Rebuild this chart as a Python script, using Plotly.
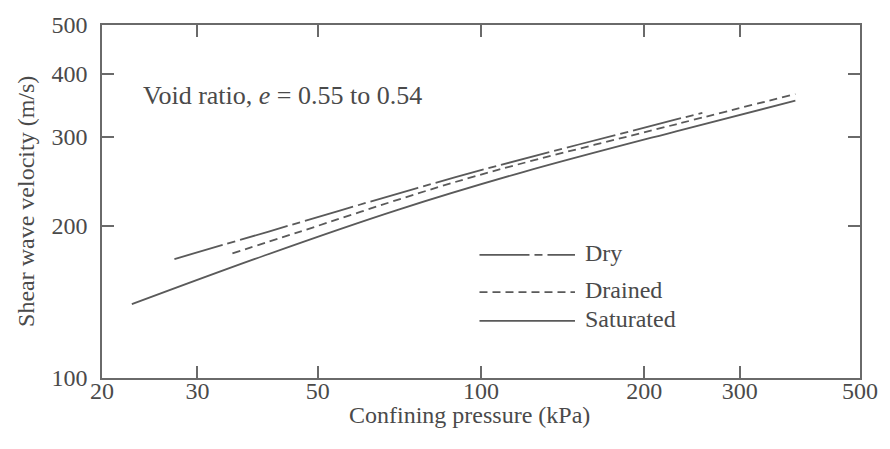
import numpy as np
import plotly.graph_objects as go

# Shear wave velocity vs confining pressure (log-log), three saturation states
pressure_dry = [27.2, 40.6, 76.5, 107, 229, 256]
vs_dry = [172, 195, 238, 263, 325, 335]

pressure_drained = [34.8, 46.1, 76.5, 107, 229, 380]
vs_drained = [176.5, 194.5, 232, 258, 318, 365]

pressure_sat = [22.7, 40, 70, 120, 229, 380]
vs_sat = [140, 175, 215, 256, 308, 354]

x_ticks = [20, 30, 50, 100, 200, 300, 500]
y_ticks = [100, 200, 300, 400, 500]

legend_names = ["Dry", "Drained", "Saturated"]

FONT = "Liberation Serif"
INK = "#4a4a4a"
LINE = "#5a5a5a"
DASHES = {"Dry": "50px,5px,8px,5px", "Drained": "8px,5px", "Saturated": "solid"}

fig = go.Figure()
series = [
    ("Dry", pressure_dry, vs_dry),
    ("Drained", pressure_drained, vs_drained),
    ("Saturated", pressure_sat, vs_sat),
]
for name, xs, ys in series:
    fig.add_trace(go.Scatter(
        x=xs, y=ys, mode="lines", name=name, showlegend=False,
        line=dict(color=LINE, width=1.8, dash=DASHES[name], shape="spline", smoothing=1.0),
    ))

# hand-built key: line sample plus label for each series
key_rows = {"Dry": 0.349, "Drained": 0.243, "Saturated": 0.162}
for name in legend_names:
    yk = key_rows[name]
    fig.add_shape(type="line", xref="paper", yref="paper",
                  x0=0.498, x1=0.624, y0=yk, y1=yk,
                  line=dict(color=LINE, width=1.8, dash=DASHES[name]))
    fig.add_annotation(text=name, xref="paper", yref="paper", x=0.634, y=yk + 0.006,
                       xanchor="left", yanchor="middle", showarrow=False,
                       font=dict(family=FONT, size=24, color=INK))

fig.add_annotation(text="Void ratio, <i>e</i> = 0.55 to 0.54", xref="paper", yref="paper",
                   x=0.052, y=0.799, xanchor="left", yanchor="middle", showarrow=False,
                   font=dict(family=FONT, size=26, color=INK))
fig.add_annotation(text="Confining pressure (kPa)", xref="paper", yref="paper",
                   x=0.485, y=-0.106, xanchor="center", yanchor="middle", showarrow=False,
                   font=dict(family=FONT, size=24, color=INK))
fig.add_annotation(text="Shear wave velocity (m/s)", xref="paper", yref="paper",
                   x=-0.101, y=0.5, xanchor="center", yanchor="middle", showarrow=False,
                   textangle=-90, font=dict(family=FONT, size=24, color=INK))

axis_common = dict(
    type="log", showgrid=False, zeroline=False, showline=True, linecolor="#6a6a6a",
    linewidth=1.5, mirror="ticks", ticks="inside", ticklen=12, tickwidth=1.5,
    tickcolor="#6a6a6a", tickfont=dict(family=FONT, size=24, color=INK),
)
fig.update_xaxes(range=[np.log10(20), np.log10(500)], tickvals=x_ticks,
                 ticktext=[str(v) for v in x_ticks], ticklabelstandoff=-10, **axis_common)
fig.update_yaxes(range=[2, np.log10(500)], tickvals=y_ticks,
                 ticktext=[str(v) for v in y_ticks], ticklabelstandoff=8, **axis_common)

fig.update_layout(
    width=890, height=449, margin=dict(l=102, r=25, t=20, b=71),
    paper_bgcolor="white", plot_bgcolor="white", showlegend=False,
)
fig.write_html("out.html")
